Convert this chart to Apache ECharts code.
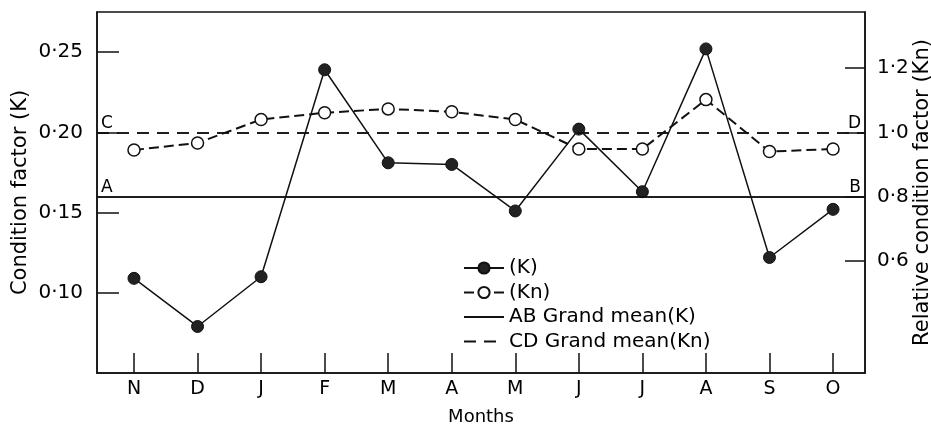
<!DOCTYPE html>
<html><head><meta charset="utf-8">
<script src="https://cdn.jsdelivr.net/npm/echarts@6/dist/echarts.min.js"></script>
<style>html,body{margin:0;padding:0;background:#fff}#c{width:931px;height:430px}</style>
</head><body><div id="c"></div>
<script>
const months = ['N','D','J','F','M','A','M','J','J','A','S','O'];
const kValues = [0.109,0.079,0.110,0.239,0.181,0.180,0.151,0.202,0.163,0.252,0.122,0.152];
const knValues = [0.945,0.967,1.040,1.061,1.073,1.064,1.040,0.948,0.948,1.102,0.940,0.948];
const grandMeanK = 0.160;
const grandMeanKn = 1.0;
const kTicks = [0.10,0.15,0.20,0.25];
const knTicks = [0.6,0.8,1.0,1.2];
const monthIndex = months.map((m,i)=>i);

const FONT = 'DejaVu Sans';
const INK = '#111';
const chart = echarts.init(document.getElementById('c'), null, {renderer:'canvas'});
const axisCommon = {
  axisLine:{show:true, onZero:false, lineStyle:{color:INK, width:1.5}},
  splitLine:{show:false},
  nameMoveOverlap:false
};
chart.setOption({
  animation:false,
  backgroundColor:'#fff',
  grid:{left:97, right:66, top:12, bottom:57, show:true, borderColor:INK, borderWidth:1.5, outerBoundsMode:'none', containLabel:false},
  legend:{
    orient:'vertical', left:458, top:253, itemWidth:40, itemHeight:14, itemGap:4.5,
    textStyle:{color:'#000', fontFamily:FONT, fontSize:20, lineHeight:20},
    data:['(K)','(Kn)','AB Grand mean(K)','CD Grand mean(Kn)']
  },
  xAxis:Object.assign({}, axisCommon, {
    type:'value', min:-0.582, max:11.503,
    name:'Months', nameLocation:'middle', nameGap:35,
    nameTextStyle:{color:'#000', fontFamily:FONT, fontSize:18},
    axisTick:{show:true, inside:true, length:20, customValues:monthIndex, lineStyle:{color:INK, width:1.5}},
    axisLabel:{customValues:monthIndex, formatter:v=>months[Math.round(v)], margin:7, color:'#000', fontFamily:FONT, fontSize:19}
  }),
  yAxis:[
    Object.assign({}, axisCommon, {
      type:'value', min:0.05, max:0.275, position:'left',
      name:'Condition factor (K)', nameLocation:'middle', nameGap:66, nameRotate:90,
      nameTextStyle:{color:'#000', fontFamily:FONT, fontSize:21},
      axisTick:{show:true, inside:true, length:22, customValues:kTicks, lineStyle:{color:INK, width:1.5}},
      axisLabel:{customValues:kTicks, formatter:v=>v.toFixed(2).replace('.','·'), margin:14, color:'#000', fontFamily:FONT, fontSize:20}
    }),
    Object.assign({}, axisCommon, {
      type:'value', min:0.25, max:1.375, position:'right',
      name:'Relative condition factor (Kn)', nameLocation:'middle', nameGap:47, nameRotate:90,
      nameTextStyle:{color:'#000', fontFamily:FONT, fontSize:21},
      axisTick:{show:true, inside:true, length:20, customValues:knTicks, lineStyle:{color:INK, width:1.5}},
      axisLabel:{customValues:knTicks, formatter:v=>v.toFixed(1).replace('.','·'), margin:12, color:'#000', fontFamily:FONT, fontSize:20}
    })
  ],
  series:[
    {
      name:'AB Grand mean(K)', type:'line', yAxisIndex:0, data:[], symbol:'none',
      lineStyle:{color:INK, width:1.5, type:'solid'}, itemStyle:{color:'rgba(0,0,0,0)', borderWidth:0},
      markLine:{silent:true, symbol:['none','none'], animation:false,
        lineStyle:{color:INK, width:1.5, type:'solid'},
        label:{color:'#000', fontFamily:FONT, fontSize:17, distance:[4,0]},
        data:[
          {yAxis:grandMeanK, label:{formatter:'A', position:'insideStartTop'}},
          {yAxis:grandMeanK, label:{formatter:'B', position:'insideEndTop'}}
        ]}
    },
    {
      name:'CD Grand mean(Kn)', type:'line', yAxisIndex:1, data:[], symbol:'none',
      lineStyle:{color:INK, width:1.5, type:[12,8]}, itemStyle:{color:'rgba(0,0,0,0)', borderWidth:0},
      markLine:{silent:true, symbol:['none','none'], animation:false,
        lineStyle:{color:INK, width:1.5, type:[12,8]},
        label:{color:'#000', fontFamily:FONT, fontSize:17, distance:[4,0]},
        data:[
          {yAxis:grandMeanKn, label:{formatter:'C', position:'insideStartTop'}},
          {yAxis:grandMeanKn, label:{formatter:'D', position:'insideEndTop'}}
        ]}
    },
    {
      name:'(Kn)', type:'line', yAxisIndex:1, z:3,
      data:knValues.map((v,i)=>[monthIndex[i], v]),
      symbol:'circle', symbolSize:12,
      lineStyle:{color:INK, width:2, type:[10,5]},
      itemStyle:{color:'#fff', borderColor:INK, borderWidth:1.5}
    },
    {
      name:'(K)', type:'line', yAxisIndex:0, z:4,
      data:kValues.map((v,i)=>[monthIndex[i], v]),
      symbol:'circle', symbolSize:12,
      lineStyle:{color:INK, width:1.5},
      itemStyle:{color:'#222', borderColor:INK, borderWidth:1}
    }
  ]
});
</script></body></html>
